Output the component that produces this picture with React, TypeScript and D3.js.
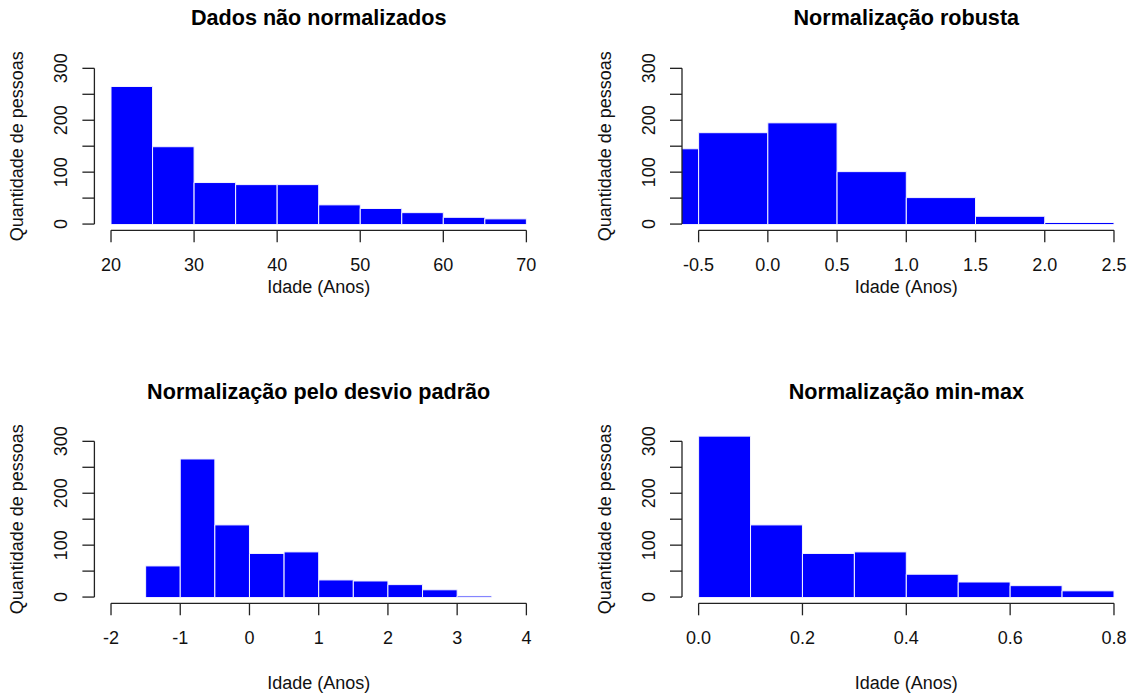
import React from "react";
import * as d3 from "d3";

// ---- data ----
const titles = [
  "Dados não normalizados",
  "Normalização robusta",
  "Normalização pelo desvio padrão",
  "Normalização min-max",
];

const breaksRaw = [20, 25, 30, 35, 40, 45, 50, 55, 60, 65, 70];
const countsRaw = [265, 149, 80, 76, 76, 37, 30, 22, 13, 10];
const ticksRaw = [20, 30, 40, 50, 60, 70];
const xlimRaw = [20, 70];

const breaksRobust = [-1, -0.5, 0, 0.5, 1, 1.5, 2, 2.5];
const countsRobust = [145, 176, 195, 101, 51, 15, 3];
const ticksRobust = [-0.5, 0, 0.5, 1, 1.5, 2, 2.5];
const xlimRobust = [-0.5, 2.5];

const breaksStd = [-1.5, -1, -0.5, 0, 0.5, 1, 1.5, 2, 2.5, 3, 3.5];
const countsStd = [60, 266, 139, 84, 87, 33, 31, 24, 14, 2];
const ticksStd = [-2, -1, 0, 1, 2, 3, 4];
const xlimStd = [-2, 4];

const breaksMinMax = [0, 0.1, 0.2, 0.3, 0.4, 0.5, 0.6, 0.7, 0.8];
const countsMinMax = [310, 139, 84, 87, 44, 29, 22, 12];
const ticksMinMax = [0, 0.2, 0.4, 0.6, 0.8];
const xlimMinMax = [0, 0.8];

const yTicks = [0, 50, 100, 150, 200, 250, 300];
const yLabels = [0, 100, 200, 300];
const ylim = [0, 300];

const xTitle = "Idade (Anos)";
const yTitle = "Quantidade de pessoas";

const FONT = "'Liberation Sans', Arial, Helvetica, sans-serif";

type PanelProps = {
  id: string;
  title: string;
  breaks: number[];
  counts: number[];
  ticks: number[];
  xlim: number[];
  fmt: (v: number) => string;
  left: number;
  top: number;
  width: number;
  height: number;
  titleY: number;
  xTitleY: number;
};

function Panel(p: PanelProps) {
  const xr = p.xlim[1] - p.xlim[0];
  const yr = ylim[1] - ylim[0];
  const x = d3
    .scaleLinear()
    .domain([p.xlim[0] - 0.04 * xr, p.xlim[1] + 0.04 * xr])
    .range([p.left, p.left + p.width]);
  const y = d3
    .scaleLinear()
    .domain([ylim[0] - 0.04 * yr, ylim[1] + 0.04 * yr])
    .range([p.top + p.height, p.top]);
  const axisY = p.top + p.height;
  const axisX = p.left;
  const tickLen = 12;
  const cx = p.left + p.width / 2;
  const cy = (y(0) + y(300)) / 2;
  const stroke = "#222";
  return (
    <g>
      <defs>
        <clipPath id={`clip-${p.id}`}>
          <rect x={p.left} y={p.top} width={p.width} height={p.height} />
        </clipPath>
      </defs>
      <g clipPath={`url(#clip-${p.id})`}>
        {p.counts.map((c, i) => {
          const x0 = x(p.breaks[i]);
          const x1 = x(p.breaks[i + 1]);
          const yt = y(c);
          const yb = y(0);
          const path = d3.path();
          path.moveTo(x0, yb);
          path.lineTo(x0, yt);
          path.lineTo(x1, yt);
          path.lineTo(x1, yb);
          return (
            <g key={i}>
              <rect x={x0} y={yt} width={x1 - x0} height={yb - yt} fill="#0000ff" />
              <path d={path.toString()} fill="none" stroke="#f4f4ff" strokeWidth={1} />
            </g>
          );
        })}
      </g>
      {/* x axis */}
      <line
        x1={x(p.ticks[0])}
        x2={x(p.ticks[p.ticks.length - 1])}
        y1={axisY}
        y2={axisY}
        stroke={stroke}
        strokeWidth={1.3}
      />
      {p.ticks.map((t, i) => (
        <g key={i}>
          <line x1={x(t)} x2={x(t)} y1={axisY} y2={axisY + tickLen} stroke={stroke} strokeWidth={1.3} />
          <text
            x={x(t)}
            y={axisY + 34.5}
            textAnchor="middle"
            dominantBaseline="central"
            fontSize={18}
            fontFamily={FONT}
            fill="#111"
          >
            {p.fmt(t)}
          </text>
        </g>
      ))}
      {/* y axis */}
      <line x1={axisX} x2={axisX} y1={y(0)} y2={y(300)} stroke={stroke} strokeWidth={1.3} />
      {yTicks.map((t, i) => (
        <line key={i} x1={axisX - tickLen} x2={axisX} y1={y(t)} y2={y(t)} stroke={stroke} strokeWidth={1.3} />
      ))}
      {yLabels.map((t, i) => (
        <text
          key={i}
          transform={`translate(${axisX - 33},${y(t)}) rotate(-90)`}
          textAnchor="middle"
          dominantBaseline="central"
          fontSize={18}
          fontFamily={FONT}
          fill="#111"
        >
          {t}
        </text>
      ))}
      <text
        transform={`translate(${axisX - 77},${cy}) rotate(-90)`}
        textAnchor="middle"
        dominantBaseline="central"
        fontSize={18}
        fontFamily={FONT}
        fill="#111"
      >
        {yTitle}
      </text>
      <text
        x={cx}
        y={p.xTitleY}
        textAnchor="middle"
        dominantBaseline="central"
        fontSize={18}
        fontFamily={FONT}
        fill="#111"
      >
        {xTitle}
      </text>
      <text
        x={cx}
        y={p.titleY}
        textAnchor="middle"
        dominantBaseline="central"
        fontSize={21.6}
        fontWeight="bold"
        fontFamily={FONT}
        fill="#000"
      >
        {p.title}
      </text>
    </g>
  );
}

export default function App() {
  const W = 1132;
  const H = 695;
  const pw = 448.6;
  const ph = 168.2;
  const lefts = [94.4, 682];
  const tops = [62.1, 435.1];
  const int = (v: number) => String(v);
  const one = (v: number) => v.toFixed(1);
  return (
    <svg
      width={W}
      height={H}
      style={{ position: "absolute", left: 0, top: 0, background: "#fff" }}
    >
      <rect width={W} height={H} fill="#fff" />
      <Panel
        id="a"
        title={titles[0]}
        breaks={breaksRaw}
        counts={countsRaw}
        ticks={ticksRaw}
        xlim={xlimRaw}
        fmt={int}
        left={lefts[0]}
        top={tops[0]}
        width={pw}
        height={ph}
        titleY={17.5}
        xTitleY={287}
      />
      <Panel
        id="b"
        title={titles[1]}
        breaks={breaksRobust}
        counts={countsRobust}
        ticks={ticksRobust}
        xlim={xlimRobust}
        fmt={one}
        left={lefts[1]}
        top={tops[0]}
        width={pw}
        height={ph}
        titleY={17.5}
        xTitleY={287}
      />
      <Panel
        id="c"
        title={titles[2]}
        breaks={breaksStd}
        counts={countsStd}
        ticks={ticksStd}
        xlim={xlimStd}
        fmt={int}
        left={lefts[0]}
        top={tops[1]}
        width={pw}
        height={ph}
        titleY={391.7}
        xTitleY={683}
      />
      <Panel
        id="d"
        title={titles[3]}
        breaks={breaksMinMax}
        counts={countsMinMax}
        ticks={ticksMinMax}
        xlim={xlimMinMax}
        fmt={one}
        left={lefts[1]}
        top={tops[1]}
        width={pw}
        height={ph}
        titleY={391.7}
        xTitleY={683}
      />
    </svg>
  );
}
